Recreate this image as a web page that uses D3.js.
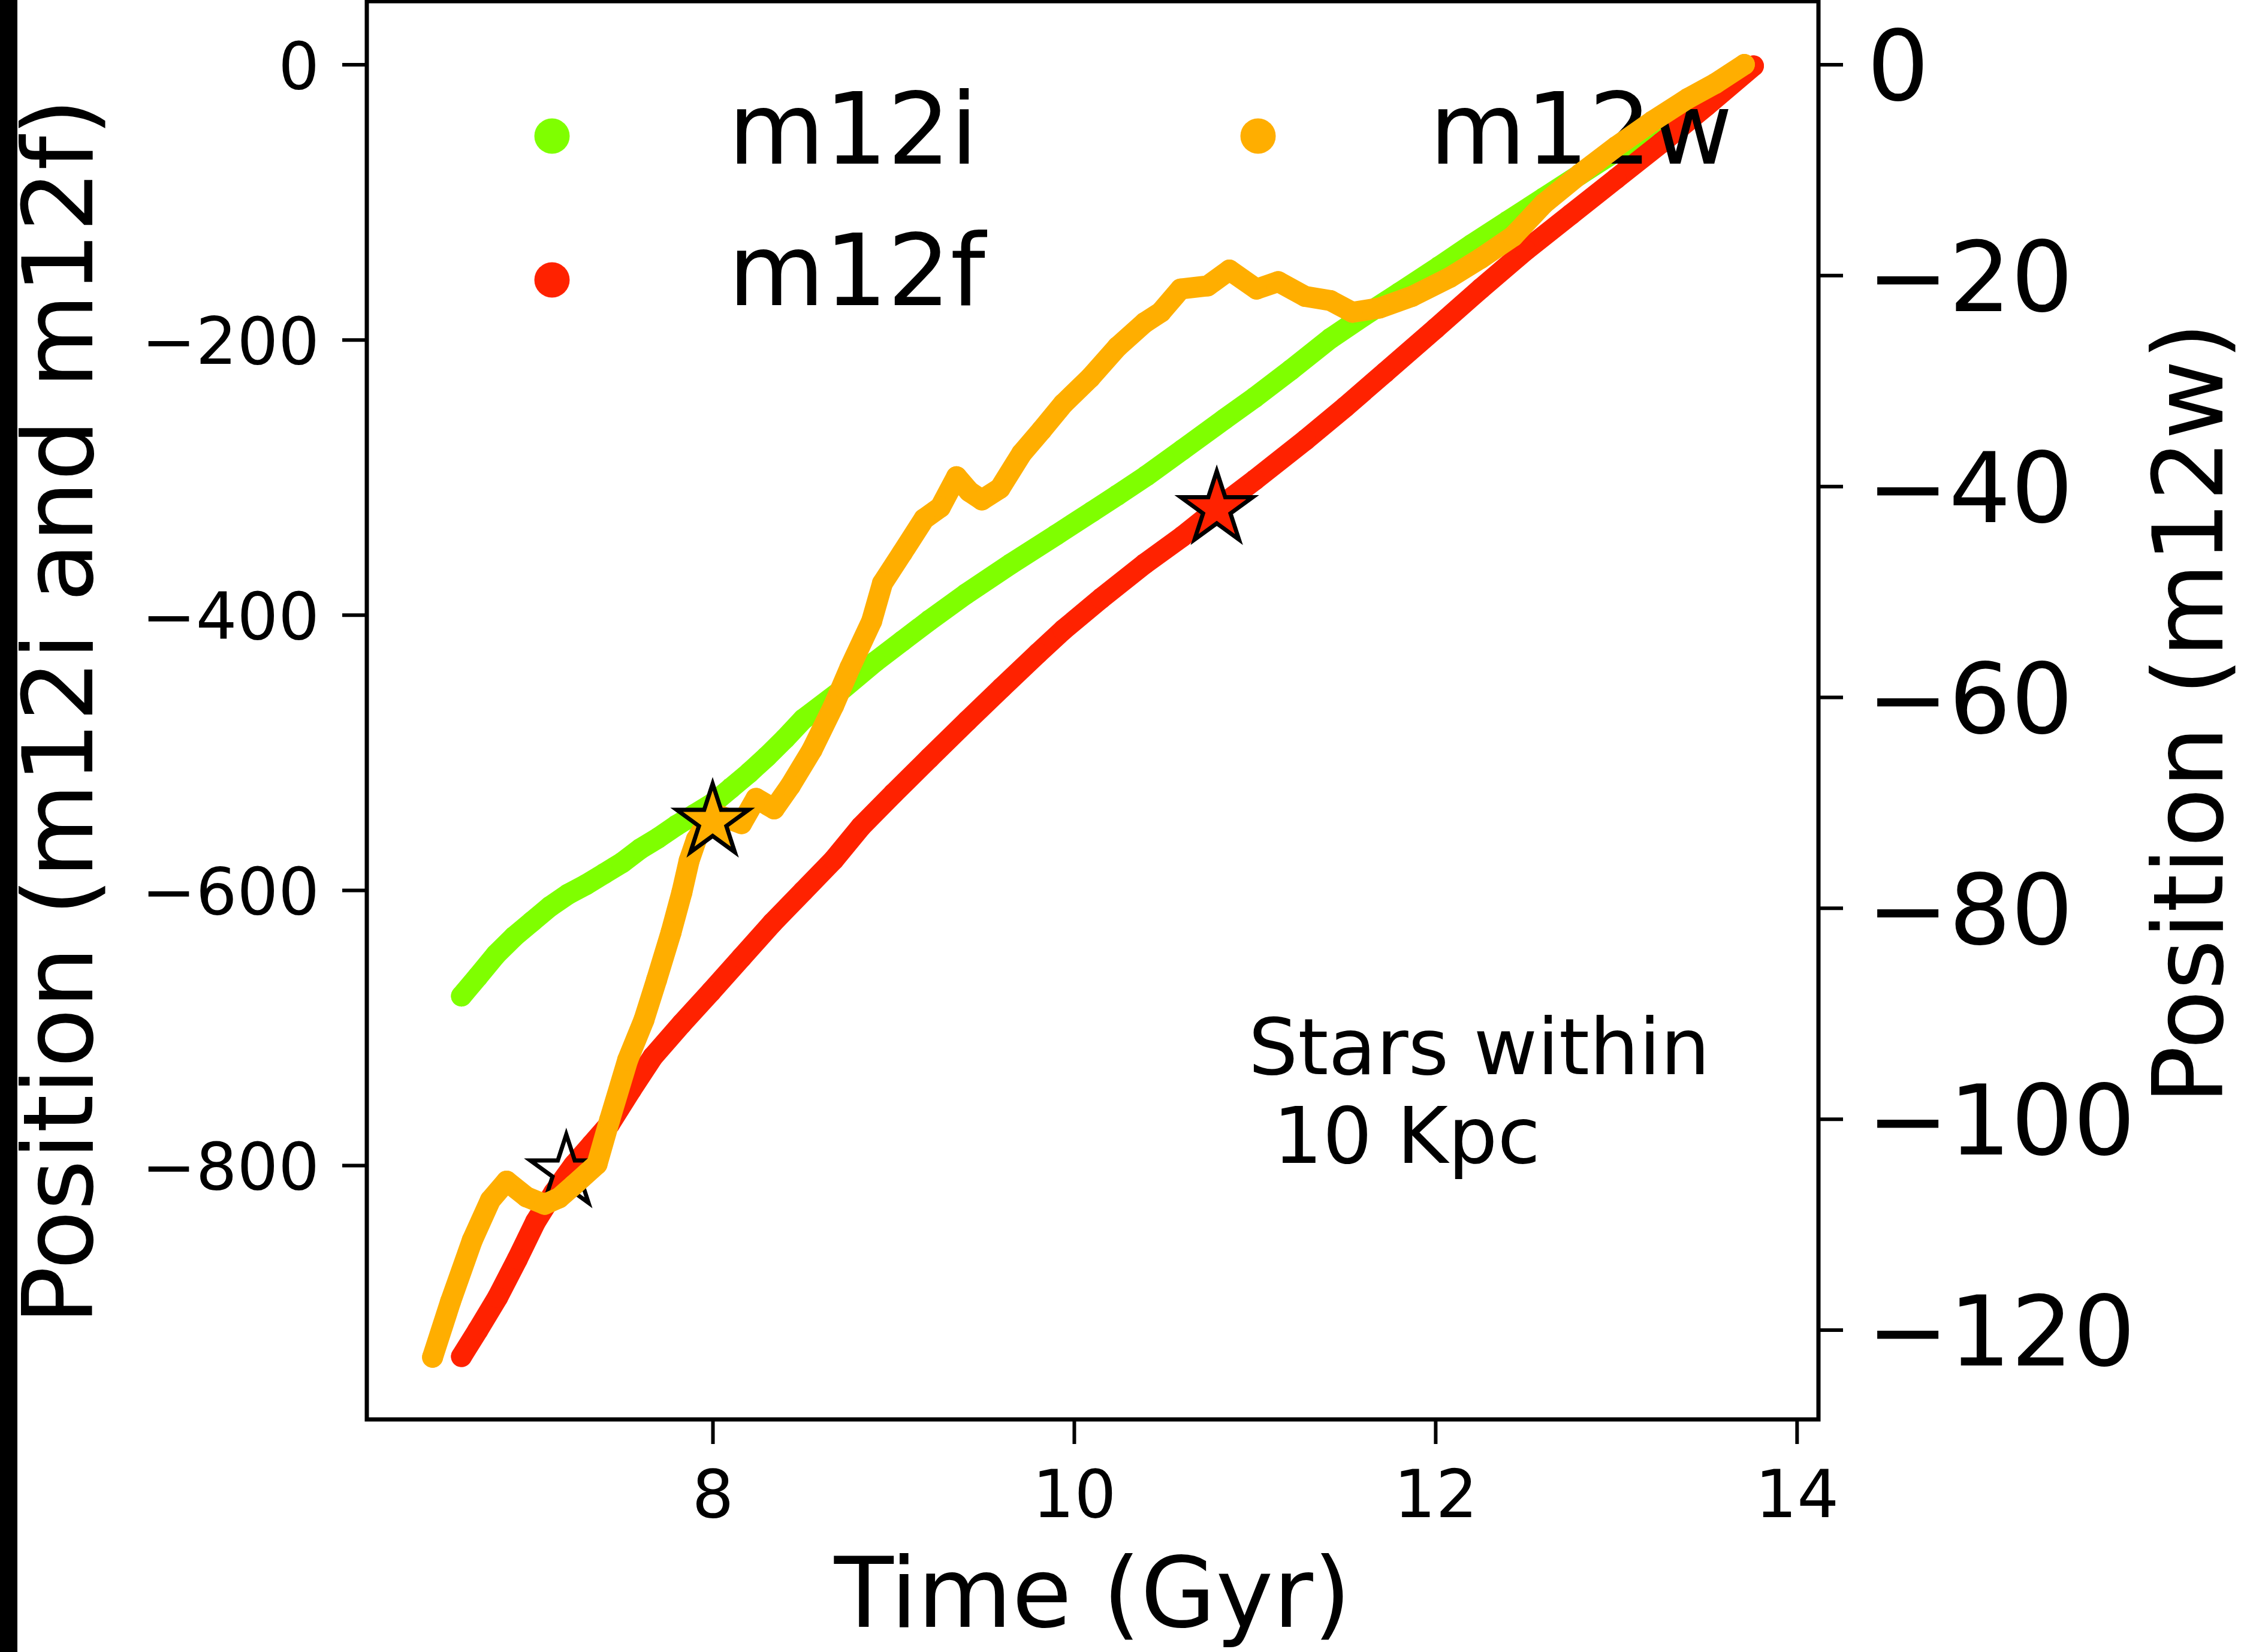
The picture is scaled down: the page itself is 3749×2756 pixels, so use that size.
<!DOCTYPE html>
<html>
<head>
<meta charset="utf-8">
<script src="https://cdn.jsdelivr.net/npm/d3@7"></script>
<style>
html,body{margin:0;padding:0;background:#fff;}
svg{display:block;}
text{font-family:"DejaVu Sans",sans-serif;fill:#000;}
</style>
</head>
<body>
<svg id="chart" width="3749" height="2756"></svg>
<script>
// ---------------- data ----------------
const seriesNames = ["m12i", "m12f", "m12w"];

const m12iTime = [6.61,6.70,6.80,6.90,7.00,7.10,7.20,7.30,7.40,7.50,7.60,7.70,7.80,7.90,8.00,8.10,8.20,8.30,8.40,8.50,8.70,8.90,9.05,9.20,9.40,9.65,9.90,10.10,10.24,10.40,10.60,10.83,11.00,11.20,11.42,11.60,11.80,12.02,12.20,12.40,12.60,12.80,13.00,13.20,13.40,13.55,13.70];
const m12iPos  = [-677,-663,-647,-634,-623,-612,-603,-596,-588,-580,-570,-562,-553,-545,-537,-526,-515,-503,-490,-476,-456,-434,-419,-404,-385,-363,-342,-325,-313,-299,-280,-258,-242,-222,-199,-183,-166,-147,-131,-114,-97,-80,-63,-46,-28,-15,-3];

const m12fTime = [6.61,6.70,6.81,6.92,7.02,7.12,7.23,7.33,7.43,7.55,7.67,7.83,7.99,8.16,8.33,8.50,8.67,8.82,9.00,9.20,9.41,9.60,9.80,9.94,10.15,10.39,10.60,10.79,11.00,11.28,11.50,11.72,12.00,12.25,12.50,12.75,13.00,13.25,13.50,13.76];
const m12fPos  = [-939,-920,-896,-868,-841,-820,-800,-785,-770,-745,-721,-697,-674,-649,-624,-601,-578,-554,-530,-504,-477,-453,-428,-411,-388,-363,-343,-323,-302,-273,-249,-224,-192,-163,-135,-109,-83,-57,-30,-1];

const m12wTime = [6.45,6.55,6.67,6.77,6.86,6.97,7.07,7.15,7.23,7.36,7.43,7.53,7.62,7.69,7.77,7.83,7.87,7.91,8.00,8.08,8.16,8.24,8.34,8.43,8.55,8.67,8.76,8.88,8.94,9.05,9.17,9.26,9.35,9.42,9.49,9.59,9.71,9.82,9.94,10.09,10.24,10.39,10.48,10.59,10.74,10.86,11.01,11.13,11.28,11.42,11.54,11.69,11.87,12.08,12.25,12.43,12.60,12.80,13.00,13.20,13.40,13.55,13.71];
const m12wPos  = [-122.6,-117.3,-111.5,-107.7,-105.9,-107.4,-108.1,-107.5,-106.3,-104.3,-100.1,-94.4,-90.6,-86.8,-82.3,-78.5,-75.5,-73.5,-71.0,-71.5,-72.0,-69.6,-70.6,-68.4,-65.0,-60.8,-57.2,-52.8,-49.2,-46.3,-43.1,-42.0,-39.1,-40.5,-41.3,-40.2,-36.9,-34.7,-32.2,-29.7,-26.8,-24.5,-23.5,-21.3,-21.0,-19.5,-21.3,-20.6,-22.0,-22.4,-23.5,-23.1,-22.0,-20.2,-18.4,-16.3,-13.2,-10.4,-7.8,-5.4,-3.2,-1.8,0];

// star markers: time, value, axis it is read on, series it belongs to
const starTime   = [7.19, 8.00, 10.79];
const starPos    = [-805, -71.8, -323];
const starAxis   = ["left", "right", "left"];
const starSeries = ["none", "m12w", "m12f"];

const xTicks     = [8, 10, 12, 14];
const leftTicks  = [0, -200, -400, -600, -800];
const rightTicks = [0, -20, -40, -60, -80, -100, -120];

const xLabel      = "Time (Gyr)";
const leftLabel   = "Position (m12i and m12f)";
const rightLabel  = "Position (m12w)";
const noteLines   = ["Stars within", "10 Kpc"];

// ---------------- layout & style ----------------
const W = 3749, H = 2756;
const plot = {left: 612, right: 3034, top: 2, bottom: 2368};
const colors = {m12i: "#7FFF00", m12f: "#FF2200", m12w: "#FFAE00"};
const DOT = 35;

const svg = d3.select("#chart");
svg.append("rect").attr("width", W).attr("height", H).attr("fill", "#fff");
svg.append("rect").attr("x", 0).attr("y", 0).attr("width", 29).attr("height", H).attr("fill", "#000");

const x  = d3.scaleLinear().domain([6.086, 14.12]).range([plot.left, plot.right]);
const yL = d3.scaleLinear().domain([-984.7, 46]).range([plot.bottom, plot.top]);
const yR = d3.scaleLinear().domain([-128.5, 6]).range([plot.bottom, plot.top]);

function drawSeries(times, vals, yScale, color) {
  const pts = times.map((t, i) => [t, vals[i]]);
  const g = svg.append("g");
  const line = d3.line().x(d => x(d[0])).y(d => yScale(d[1]));
  g.append("path").attr("d", line(pts))
    .attr("fill", "none").attr("stroke", color)
    .attr("stroke-width", DOT).attr("stroke-linecap", "round").attr("stroke-linejoin", "round");
  g.selectAll("circle").data(pts).join("circle")
    .attr("cx", d => x(d[0])).attr("cy", d => yScale(d[1]))
    .attr("r", DOT / 2).attr("fill", color);
}

const star = d3.symbol().type(d3.symbolStar).size(4456);
function drawStar(i) {
  const ys = starAxis[i] === "left" ? yL : yR;
  const fill = starSeries[i] === "none" ? "none" : colors[starSeries[i]];
  svg.append("path").attr("d", star())
    .attr("transform", `translate(${x(starTime[i])},${ys(starPos[i])})`)
    .attr("fill", fill).attr("stroke", "#000").attr("stroke-width", 7)
    .attr("stroke-linejoin", "miter");
}

// primary axes (m12i, m12f)
drawSeries(m12iTime, m12iPos, yL, colors.m12i);
drawSeries(m12fTime, m12fPos, yL, colors.m12f);
drawStar(0);
drawStar(2);

// legend (belongs to the primary axes)
const legend = [
  {name: seriesNames[0], cx: 921, cy: 227, tx: 1215, ty: 273},
  {name: seriesNames[1], cx: 921, cy: 467, tx: 1215, ty: 509},
  {name: seriesNames[2], cx: 2099, cy: 227, tx: 2385, ty: 273}
];
legend.forEach(l => {
  svg.append("circle").attr("cx", l.cx).attr("cy", l.cy).attr("r", 29.5).attr("fill", colors[l.name]);
  svg.append("text").attr("x", l.tx).attr("y", l.ty).attr("font-size", 165).text(l.name);
});

// annotation
svg.append("text").attr("x", 2083).attr("y", 1792).attr("font-size", 130).text(noteLines[0]);
svg.append("text").attr("x", 2124).attr("y", 1940).attr("font-size", 130).text(noteLines[1]);

// twin axes (m12w)
drawSeries(m12wTime, m12wPos, yR, colors.m12w);
drawStar(1);

// frame
svg.append("rect").attr("x", plot.left).attr("y", plot.top)
  .attr("width", plot.right - plot.left).attr("height", plot.bottom - plot.top)
  .attr("fill", "none").attr("stroke", "#000").attr("stroke-width", 7);

const fmt = d3.format("d");
function styleAxis(g, size, dy) {
  g.select(".domain").remove();
  g.selectAll(".tick line").attr("stroke", "#000").attr("stroke-width", 6);
  g.selectAll(".tick text").attr("font-size", size).attr("fill", "#000")
    .attr("font-family", "DejaVu Sans").attr("dy", dy);
}

const gL = svg.append("g").attr("transform", `translate(${plot.left},0)`)
  .call(d3.axisLeft(yL).tickValues(leftTicks).tickSize(41).tickPadding(38).tickFormat(fmt));
styleAxis(gL, 108, "0.37em");

const gR = svg.append("g").attr("transform", `translate(${plot.right},0)`)
  .call(d3.axisRight(yR).tickValues(rightTicks).tickSize(41).tickPadding(40).tickFormat(fmt));
styleAxis(gR, 163, "0.364em");

const gB = svg.append("g").attr("transform", `translate(0,${plot.bottom})`)
  .call(d3.axisBottom(x).tickValues(xTicks).tickSize(41).tickPadding(44).tickFormat(fmt));
styleAxis(gB, 110, "0.71em");

// axis labels
svg.append("text").attr("x", (plot.left + plot.right) / 2).attr("y", 2714)
  .attr("text-anchor", "middle").attr("font-size", 162).text(xLabel);
svg.append("text").attr("transform", "translate(154,1187) rotate(-90)")
  .attr("text-anchor", "middle").attr("font-size", 162).text(leftLabel);
svg.append("text").attr("transform", "translate(3708,1190) rotate(-90)")
  .attr("text-anchor", "middle").attr("font-size", 162).text(rightLabel);
</script>
</body>
</html>
